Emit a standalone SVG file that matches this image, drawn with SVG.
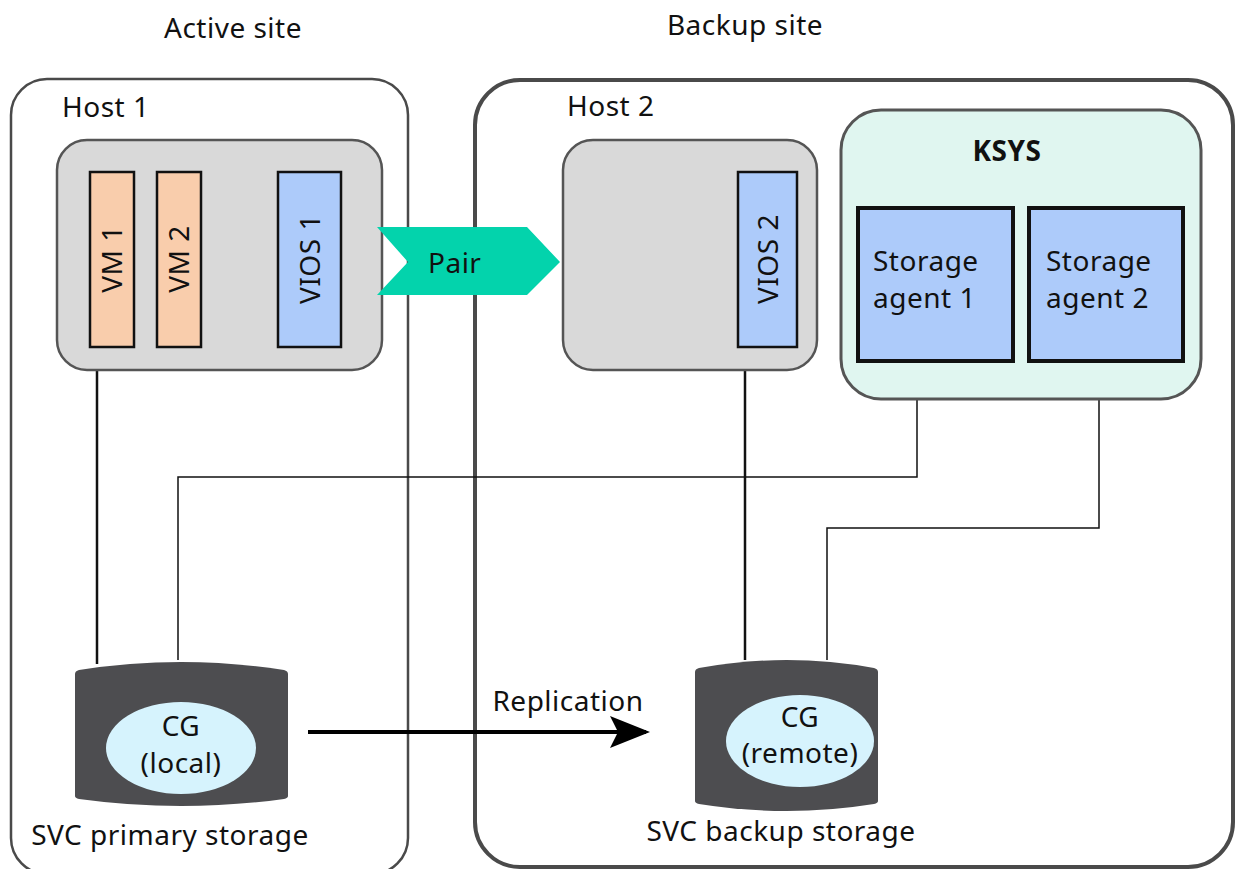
<svg xmlns="http://www.w3.org/2000/svg" width="1235" height="869" viewBox="0 0 1235 869">
<style>
text{font-family:"Noto Sans","Open Sans","Liberation Sans",sans-serif;fill:#111;font-size:28px;letter-spacing:0.5px}
.site{fill:none;stroke:#4a4a4a}
.host{fill:#d9d9d9;stroke:#555;stroke-width:2.5}
.vm{fill:#f9cdac;stroke:#111;stroke-width:2.5}
.blue{fill:#adcbfa;stroke:#111;stroke-width:2.5}
.agent{fill:#adcbfa;stroke:#111;stroke-width:4}
.cyl{fill:#4d4d50}
.cg{fill:#d6f3fd}
.mid{text-anchor:middle}
.thick{stroke:#111;stroke-width:2.5;fill:none}
.thin{stroke:#111;stroke-width:1.5;fill:none}
</style>
<defs>
<marker id="ah" markerWidth="10" markerHeight="8" refX="9" refY="4" orient="auto" markerUnits="strokeWidth">
<path d="M0,0 L10,4 L0,8 L2,4 Z" fill="#000"/>
</marker>
</defs>

<g id="active-site">
<rect class="site" x="11" y="79" width="397" height="795" rx="36" stroke-width="2.5"/>
<text class="mid" x="233" y="38">Active site</text>
</g>
<g id="backup-site">
<rect class="site" x="475" y="80" width="758" height="787" rx="45" stroke-width="4"/>
<text class="mid" x="745" y="35">Backup site</text>
</g>

<g id="connectors">
<line class="thick" x1="97" y1="370" x2="97" y2="664"/>
<polyline class="thin" points="917,362 917,477 178,477 178,660"/>
<line class="thick" x1="745" y1="366" x2="745" y2="660"/>
<polyline class="thin" points="1099,365 1099,528 827,528 827,660"/>
<line x1="308" y1="732" x2="646" y2="732" stroke="#000" stroke-width="4" marker-end="url(#ah)"/>
<line x1="204" y1="258" x2="258" y2="258" stroke="#444" stroke-width="1.5" stroke-dasharray="8,6"/>
</g>

<g id="host1">
<text x="62" y="117">Host 1</text>
<rect class="host" x="57" y="140" width="325" height="230" rx="30"/>
</g>
<g id="vm1">
<rect class="vm" x="90" y="172" width="44" height="175"/>
<text class="mid" transform="translate(122,259) rotate(-90)">VM 1</text>
</g>
<g id="vm2">
<rect class="vm" x="157" y="172" width="44" height="175"/>
<text class="mid" transform="translate(189,259) rotate(-90)">VM 2</text>
</g>
<g id="vios1">
<rect class="blue" x="278" y="172" width="63" height="175"/>
<text class="mid" transform="translate(320,259) rotate(-90)">VIOS 1</text>
</g>

<g id="host2">
<text x="567" y="116">Host 2</text>
<rect class="host" x="563" y="140" width="254" height="230" rx="30"/>
</g>
<g id="vios2">
<rect class="blue" x="738" y="172" width="59" height="175"/>
<text class="mid" transform="translate(778,259) rotate(-90)">VIOS 2</text>
</g>

<g id="pair">
<polygon points="377,227 527,227 560,262 527,295 377,295 408,262" fill="#03d3ac"/>
<text x="428" y="273">Pair</text>
</g>

<g id="ksys">
<rect x="841" y="110" width="360" height="289" rx="40" fill="#e0f6f0" stroke="#555" stroke-width="3"/>
<text class="mid" x="1007" y="161" font-weight="bold">KSYS</text>
</g>
<g id="agent1">
<rect class="agent" x="858" y="208" width="155" height="153"/>
<text x="873" y="271">Storage</text>
<text x="873" y="308">agent 1</text>
</g>
<g id="agent2">
<rect class="agent" x="1029" y="208" width="154" height="153"/>
<text x="1046" y="271">Storage</text>
<text x="1046" y="308">agent 2</text>
</g>

<g id="primary-storage">
<path class="cyl" d="M75,674 Q75,671 79,670 Q181,654 284,670 Q288,671 288,674 L288,796 Q288,798 284,799 Q181,813 79,799 Q75,798 75,796 Z"/>
<ellipse class="cg" cx="181" cy="748" rx="75" ry="46"/>
<text class="mid" x="181" y="736">CG</text>
<text class="mid" x="181" y="773">(local)</text>
<text class="mid" x="170" y="845">SVC primary storage</text>
</g>

<g id="backup-storage">
<path class="cyl" d="M695,672 Q695,669 699,668 Q787,652 874,668 Q878,669 878,672 L878,801 Q878,803 874,804 Q787,818 699,804 Q695,803 695,801 Z"/>
<ellipse class="cg" cx="800" cy="741" rx="74" ry="46"/>
<text class="mid" x="800" y="727">CG</text>
<text class="mid" x="800" y="763">(remote)</text>
<text class="mid" x="781" y="841">SVC backup storage</text>
</g>

<g id="replication-label">
<text class="mid" x="568" y="711">Replication</text>
</g>
</svg>
